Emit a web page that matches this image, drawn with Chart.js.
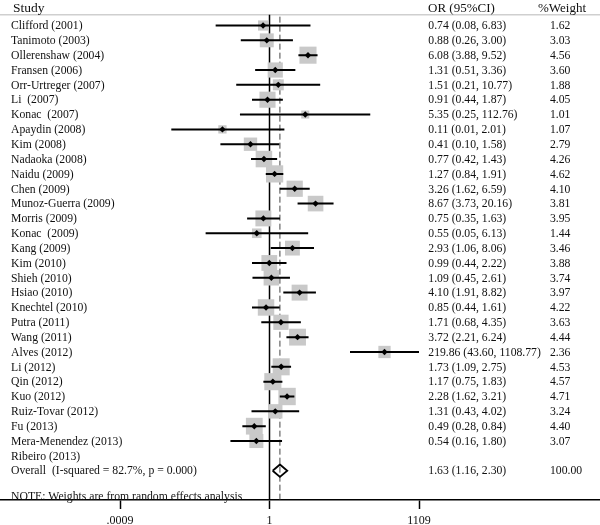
<!DOCTYPE html>
<html>
<head>
<meta charset="utf-8">
<script src="https://cdn.jsdelivr.net/npm/chart.js"></script>
<style>
  body { margin: 0; background: #fff; }
  canvas { display: block; }
</style>
</head>
<body>
<canvas id="forest" width="600" height="525"></canvas>
<script>
const studies = ["Clifford (2001)", "Tanimoto (2003)", "Ollerenshaw (2004)", "Fransen (2006)", "Orr-Urtreger (2007)",
  "Li  (2007)", "Konac  (2007)", "Apaydin (2008)", "Kim (2008)", "Nadaoka (2008)", "Naidu (2009)", "Chen (2009)",
  "Munoz-Guerra (2009)", "Morris (2009)", "Konac  (2009)", "Kang (2009)", "Kim (2010)", "Shieh (2010)", "Hsiao (2010)",
  "Knechtel (2010)", "Putra (2011)", "Wang (2011)", "Alves (2012)", "Li (2012)", "Qin (2012)", "Kuo (2012)",
  "Ruiz-Tovar (2012)", "Fu (2013)", "Mera-Menendez (2013)", "Ribeiro (2013)"];

const oddsRatio = [0.74, 0.88, 6.08, 1.31, 1.51, 0.91, 5.35, 0.11, 0.41, 0.77, 1.27, 3.26, 8.67, 0.75, 0.55,
  2.93, 0.99, 1.09, 4.10, 0.85, 1.71, 3.72, 219.86, 1.73, 1.17, 2.28, 1.31, 0.49, 0.54, null];
const lower = [0.08, 0.26, 3.88, 0.51, 0.21, 0.44, 0.25, 0.01, 0.10, 0.42, 0.84, 1.62, 3.73, 0.35, 0.05,
  1.06, 0.44, 0.45, 1.91, 0.44, 0.68, 2.21, 43.60, 1.09, 0.75, 1.62, 0.43, 0.28, 0.16, null];
const upper = [6.83, 3.00, 9.52, 3.36, 10.77, 1.87, 112.76, 2.01, 1.58, 1.43, 1.91, 6.59, 20.16, 1.63, 6.13,
  8.06, 2.22, 2.61, 8.82, 1.61, 4.35, 6.24, 1108.77, 2.75, 1.83, 3.21, 4.02, 0.84, 1.80, null];
const weights = [1.62, 3.03, 4.56, 3.60, 1.88, 4.05, 1.01, 1.07, 2.79, 4.26, 4.62, 4.10, 3.81, 3.95, 1.44,
  3.46, 3.88, 3.74, 3.97, 4.22, 3.63, 4.44, 2.36, 4.53, 4.57, 4.71, 3.24, 4.40, 3.07, null];

const pooled = 1.63;
const pooledLower = 1.16;
const pooledUpper = 2.30;
const pooledWeight = 100.00;
const overallLabel = "Overall  (I-squared = 82.7%, p = 0.000)";
const noteText = "NOTE: Weights are from random effects analysis";

const tickValues = [1 / 1108.77, 1, 1108.77];
const tickLabels = [".0009", "1", "1109"];

const overallRow = studies.length;
const serif = '"Liberation Serif", "Times New Roman", serif';

function fmt(v, lo, hi) {
  return v.toFixed(2) + " (" + lo.toFixed(2) + ", " + hi.toFixed(2) + ")";
}

// weight boxes, area proportional to weight
const boxData = studies.map((s, i) => ({ x: oddsRatio[i], y: oddsRatio[i] == null ? null : i }));
const boxRadius = weights.map(w => w ? 5.66 * Math.sqrt(w) : 0);

// confidence interval lines, broken with null points
const ciData = [];
studies.forEach((s, i) => {
  if (oddsRatio[i] == null) return;
  ciData.push({ x: lower[i], y: i }, { x: upper[i], y: i }, { x: null, y: null });
});

const diamondH = 0.42;
const diamondData = [
  { x: pooledLower, y: overallRow },
  { x: pooled, y: overallRow - diamondH },
  { x: pooledUpper, y: overallRow },
  { x: pooled, y: overallRow + diamondH },
  { x: pooledLower, y: overallRow }
];

const forestText = {
  id: "forestText",
  beforeDatasetsDraw(chart) {
    const ctx = chart.ctx;
    const xs = chart.scales.x, ys = chart.scales.y;
    const headY = ys.getPixelForValue(-0.73);
    const bottom = chart.chartArea.bottom;
    ctx.save();
    ctx.strokeStyle = "#cfcfcf";
    ctx.lineWidth = 1.5;
    ctx.beginPath();
    ctx.moveTo(0, headY);
    ctx.lineTo(600, headY);
    ctx.stroke();

    const x1 = xs.getPixelForValue(1);
    ctx.strokeStyle = "#000";
    ctx.lineWidth = 1.5;
    ctx.beginPath();
    ctx.moveTo(x1, headY);
    ctx.lineTo(x1, bottom);
    ctx.stroke();

    const xp = xs.getPixelForValue(pooled);
    ctx.strokeStyle = "#444";
    ctx.lineWidth = 1;
    ctx.setLineDash([6, 3]);
    ctx.beginPath();
    ctx.moveTo(xp, headY + 2);
    ctx.lineTo(xp, bottom);
    ctx.stroke();
    ctx.restore();
  },
  afterDatasetsDraw(chart) {
    const ctx = chart.ctx;
    const ys = chart.scales.y;
    ctx.save();
    ctx.fillStyle = "#111";
    ctx.textBaseline = "alphabetic";

    ctx.font = "13.5px " + serif;
    ctx.fillText("Study", 13, 11.5);
    ctx.font = "13px " + serif;
    ctx.fillText("OR (95%CI)", 428, 11.5);
    ctx.fillText("%Weight", 538, 11.5);

    ctx.font = "11.7px " + serif;
    studies.forEach((name, i) => {
      const py = ys.getPixelForValue(i) + 3.8;
      ctx.fillText(name, 11, py);
      if (oddsRatio[i] != null) {
        ctx.fillText(fmt(oddsRatio[i], lower[i], upper[i]), 428.3, py);
        ctx.fillText(weights[i].toFixed(2), 550, py);
      }
    });
    const po = ys.getPixelForValue(overallRow) + 3.6;
    ctx.fillText(overallLabel, 11, po);
    ctx.fillText(fmt(pooled, pooledLower, pooledUpper), 428.3, po);
    ctx.fillText(pooledWeight.toFixed(2), 550, po);

    ctx.fillText(noteText, 11, ys.getPixelForValue(overallRow + 1.75) + 3.8);
    ctx.restore();
  }
};

const config = {
  type: "scatter",
  data: {
    datasets: [
      {
        label: "point",
        data: boxData,
        pointStyle: "rectRot",
        pointRadius: 3.2,
        backgroundColor: "#000",
        borderWidth: 0,
        order: 0
      },
      {
        label: "ci",
        data: ciData,
        showLine: true,
        spanGaps: false,
        borderColor: "#000",
        borderWidth: 2,
        pointRadius: 0,
        order: 1
      },
      {
        label: "weight",
        data: boxData,
        pointStyle: "rect",
        pointRadius: boxRadius,
        backgroundColor: "#c9c9c9",
        borderWidth: 0,
        order: 2
      },
      {
        label: "overall",
        data: diamondData,
        showLine: true,
        borderColor: "#000",
        borderWidth: 1.8,
        pointRadius: 0,
        fill: false,
        order: 0
      }
    ]
  },
  options: {
    responsive: false,
    devicePixelRatio: 1,
    animation: false,
    events: [],
    layout: { padding: 0, autoPadding: false },
    plugins: {
      legend: { display: false },
      tooltip: { enabled: false }
    },
    scales: {
      x: {
        type: "logarithmic",
        min: 3.244e-6,
        max: 5.385e6,
        bounds: "data",
        afterBuildTicks: s => { s.ticks = tickValues.map(v => ({ value: v })); },
        afterFit: s => { s.height = 25; },
        ticks: {
          autoSkip: false,
          maxRotation: 0,
          padding: 5,
          color: "#111",
          font: { family: serif, size: 12 },
          callback: (v, i) => tickLabels[i]
        },
        grid: { drawOnChartArea: false, drawTicks: true, tickLength: 9, tickColor: "#000", tickWidth: 1.5 },
        border: { display: true, color: "#000", width: 1.5 }
      },
      y: {
        type: "linear",
        reverse: true,
        min: -1.718,
        max: 31.974,
        display: false
      }
    }
  },
  plugins: [forestText]
};

const forestChart = new Chart(document.getElementById("forest"), config);
</script>
</body>
</html>
